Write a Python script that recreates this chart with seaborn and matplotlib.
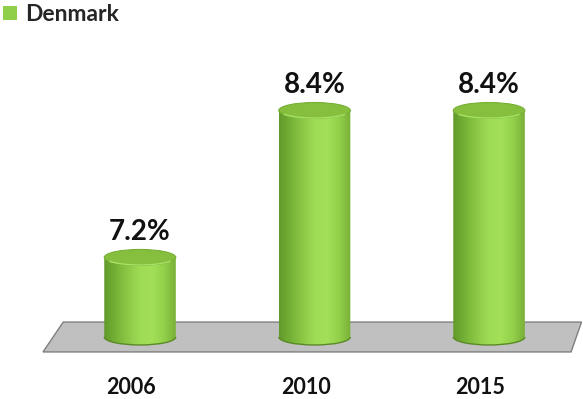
import numpy as np
import pandas as pd
import matplotlib
matplotlib.use("Agg")
import matplotlib.pyplot as plt
import seaborn as sns
from matplotlib.patches import Ellipse, Polygon, Patch, Arc
from matplotlib.colors import LinearSegmentedColormap
from matplotlib.transforms import ScaledTranslation

# Data
years = ["2006", "2010", "2015"]
shares = [7.2, 8.4, 8.4]
value_labels = ["7.2%", "8.4%", "8.4%"]
country = "Denmark"

sns.set_style("white")
plt.rcParams["font.family"] = ["Lato", "DejaVu Sans"]

df = pd.DataFrame({"year": years, "share": shares})

fig = plt.figure(figsize=(5.83, 3.99), dpi=100)
ax = fig.add_axes([0.0905, 0.0633, 0.898, 0.844])
sns.barplot(data=df, x="year", y="share", width=0.41, color="#92d050", ax=ax)

base = 6.55      # value where the cylinders stand on the floor
depth = 0.13     # vertical size of the cylinder ellipses (data units)
floor_half = 0.122

body_cmap = LinearSegmentedColormap.from_list(
    "body",
    ["#619a2b", "#76b236", "#8dc946", "#9fdc55", "#a3e058", "#93d14b", "#78b037"],
)
gradient = body_cmap(np.linspace(0, 1, 256))[None, :, :]

# Floor slab under the cylinders
centers = [p.get_x() + p.get_width() / 2 for p in ax.patches]
first, last = min(centers), max(centers)
floor = Polygon(
    [
        (first - 0.44, base + floor_half),
        (last + 0.53, base + floor_half),
        (last + 0.47, base - floor_half),
        (first - 0.556, base - floor_half),
    ],
    closed=True, facecolor="#c0c0c0", edgecolor="#7f7f7f", linewidth=1.0,
    zorder=1, clip_on=False,
)
ax.add_patch(floor)

for bar, label in zip(ax.patches, value_labels):
    bar.set_visible(False)
    x0 = bar.get_x()
    w = bar.get_width()
    x1 = x0 + w
    cx = x0 + w / 2
    top = bar.get_height()

    theta = np.linspace(np.pi, 2 * np.pi, 80)
    bottom_arc = [(cx + w / 2 * np.cos(t), base + depth / 2 * np.sin(t)) for t in theta]
    body = Polygon(bottom_arc + [(x1, top), (x0, top)], closed=True,
                   transform=ax.transData, facecolor="none", edgecolor="none")
    ax.add_patch(body)
    im = ax.imshow(gradient, extent=[x0, x1, base - depth / 2, top],
                   aspect="auto", interpolation="bilinear", zorder=3)
    im.set_clip_path(body)

    # darker rim along the bottom of the cylinder
    ax.add_patch(Arc((cx, base), w, depth, theta1=180, theta2=360,
                     color="#5a8a26", linewidth=1.0, zorder=4))
    # top cap
    ax.add_patch(Ellipse((cx, top), w, depth, facecolor="#86bf3d",
                         edgecolor="#77b035", linewidth=0.8, zorder=5))
    ax.add_patch(Arc((cx, top), w * 0.99, depth * 0.95, theta1=190, theta2=350,
                     color="#a6e266", linewidth=1.0, zorder=6))

    ax.annotate(label, (cx, top), xytext=(0, 12.5), textcoords="offset points",
                ha="center", va="baseline", fontsize=20, fontweight="bold",
                color="#111111", zorder=7)

ax.set_xlim(-0.5, 2.5)
ax.set_ylim(6.25, 9.0)
ax.set_xlabel("")
ax.set_ylabel("")
ax.set_yticks([])
ax.tick_params(axis="x", length=0, pad=2.0)
for lbl in ax.get_xticklabels():
    lbl.set_fontsize(15.5)
    lbl.set_fontweight("bold")
    lbl.set_color("#111111")
    lbl.set_transform(lbl.get_transform() + ScaledTranslation(-9 / 100, 0, fig.dpi_scale_trans))
sns.despine(ax=ax, left=True, bottom=True)

fig.legend(handles=[Patch(facecolor="#8fcf4a", edgecolor="none", label=country)],
           loc="upper left", bbox_to_anchor=(-0.018, 1.025), frameon=False,
           prop={"weight": "bold", "size": 16.5}, handlelength=0.58, handleheight=0.58,
           handletextpad=0.38, borderaxespad=0.2)

fig.savefig("out.png", dpi=100)
